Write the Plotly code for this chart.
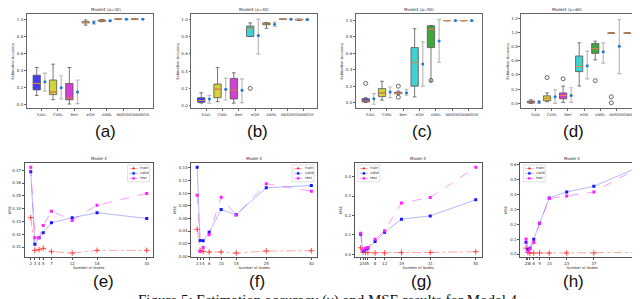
import plotly.graph_objects as go
import numpy as np

# ---------------- data: top row (box plots + mean/std error bars) ----------------
CATS = ['SAVL', 'CVML', 'Bert', 'eGM', 'ANML', 'NNSGM', 'GNNNSGM']
BOX_COLORS = ['#3f3ff0', '#d2d23c', '#d43fd4', '#3fd2d2', '#3fa53f', '#f3a57a', '#c9b56a']
TOP_TITLES = ['Model4 (p=30)', 'Model4 (p=40)', 'Model4 (p=50)', 'Model4 (p=60)']

A_Q1 = [0.175, 0.12, 0.06, 0.955, 0.975, 0.998, 0.998]
A_MED = [0.25, 0.15, 0.08, 0.962, 0.98, 1.0, 1.0]
A_Q3 = [0.346, 0.29, 0.25, 0.97, 0.99, 1.0, 1.0]
A_LO = [0.11, 0.06, 0.01, 0.93, 0.97, 0.995, 0.995]
A_HI = [0.436, 0.475, 0.436, 0.99, 0.995, 1.0, 1.0]
A_MEAN = [0.27, 0.2, 0.15, 0.96, 0.982, 0.999, 0.999]
A_ELO = [0.16, 0.07, 0.015, 0.94, 0.975, 0.997, 0.997]
A_EHI = [0.37, 0.34, 0.29, 0.98, 0.99, 1.0, 1.0]
A_OUT = [[], [], [], [], [], [], []]

B_Q1 = [0.04, 0.093, 0.078, 0.80, 0.935, 0.998, 0.99]
B_MED = [0.06, 0.19, 0.18, 0.895, 0.945, 1.0, 0.995]
B_Q3 = [0.093, 0.25, 0.315, 0.92, 0.957, 1.0, 1.0]
B_LO = [0.03, 0.047, 0.03, 0.80, 0.895, 0.995, 0.985]
B_HI = [0.15, 0.44, 0.38, 0.957, 0.96, 1.0, 1.0]
B_MEAN = [0.078, 0.19, 0.18, 0.81, 0.94, 0.999, 0.997]
B_ELO = [0.03, 0.066, 0.035, 0.6, 0.915, 0.997, 0.99]
B_EHI = [0.12, 0.32, 0.31, 1.0, 0.965, 1.0, 1.0]
B_OUT = [[], [], [], [0.2], [], [], []]

C_Q1 = [0.008, 0.073, 0.109, 0.2, 0.67, 0.998, 0.998]
C_MED = [0.02, 0.117, 0.113, 0.49, 0.895, 1.0, 1.0]
C_Q3 = [0.048, 0.17, 0.125, 0.67, 0.935, 1.0, 1.0]
C_LO = [0.0, 0.03, 0.097, 0.07, 0.26, 0.995, 0.995]
C_HI = [0.06, 0.26, 0.141, 0.9, 0.94, 1.0, 1.0]
C_MEAN = [0.048, 0.13, 0.121, 0.47, 0.75, 0.999, 0.999]
C_ELO = [-0.02, 0.06, 0.09, 0.2, 0.49, 0.997, 0.997]
C_EHI = [0.11, 0.19, 0.16, 0.74, 1.01, 1.0, 1.0]
C_OUT = [[0.234], [], [0.2, 0.065], [], [0.27], [], []]

D_Q1 = [0.005, 0.037, 0.065, 0.447, 0.705, 0.99, 0.99]
D_MED = [0.018, 0.07, 0.11, 0.52, 0.77, 0.99, 0.99]
D_Q3 = [0.032, 0.106, 0.147, 0.668, 0.843, 0.99, 0.99]
D_LO = [0.0, 0.023, 0.014, 0.244, 0.613, 0.99, 0.99]
D_HI = [0.05, 0.147, 0.244, 0.853, 0.876, 0.99, 0.99]
D_MEAN = [0.018, 0.092, 0.11, 0.53, 0.728, 0.806, 0.99]
D_ELO = [0.0, 0.0, 0.014, 0.345, 0.567, 0.42, 0.985]
D_EHI = [0.037, 0.19, 0.22, 0.737, 0.853, 1.18, 0.995]
D_OUT = [[], [0.364], [0.345], [], [0.32], [0.092, 0.009], []]

TOP_YRANGES = [[-0.04, 1.06], [-0.03, 1.06], [-0.07, 1.08], [-0.07, 1.26]]
TOP_YTICKS = [[0, 0.2, 0.4, 0.6, 0.8, 1.0]] * 3 + [[0, 0.2, 0.4, 0.6, 0.8, 1.0, 1.2]]

# ---------------- data: bottom row (MSE vs number of nodes) ----------------
SERIES = ['train', 'valid', 'test']

E_X = [2, 3, 4, 5, 7, 12, 18, 30]
E_TRAIN = [0.333, 0.3074, 0.3079, 0.309, 0.3064, 0.3053, 0.3074, 0.3074]
E_VALID = [0.3687, 0.3121, 0.3173, 0.3212, 0.329, 0.3329, 0.3368, 0.3323]
E_TEST = [0.3723, 0.3173, 0.3173, 0.3269, 0.338, 0.3308, 0.3427, 0.3518]

F_X = [2, 3, 4, 6, 10, 15, 25, 40]
F_TRAIN = [0.0428, 0.0089, 0.0078, 0.0068, 0.0068, 0.0052, 0.0084, 0.0089]
F_VALID = [0.141, 0.025, 0.0245, 0.038, 0.074, 0.066, 0.1086, 0.112]
F_TEST = [0.0966, 0.0078, 0.0141, 0.0345, 0.0935, 0.0653, 0.115, 0.103]

G_X = [2, 3, 4, 5, 8, 12, 19, 31, 50]
G_TRAIN = [0.034, 0.012, 0.010, 0.010, 0.007, 0.007, 0.009, 0.010, 0.014]
G_VALID = [0.103, 0.017, 0.026, 0.031, 0.066, 0.114, 0.181, 0.198, 0.281]
G_TEST = [0.109, 0.022, 0.031, 0.036, 0.078, 0.122, 0.264, 0.293, 0.448]

H_X = [2, 3, 4, 6, 9, 14, 23, 37, 60]
H_TRAIN = [0.04, 0.011, 0.007, 0.007, 0.007, 0.007, 0.007, 0.007, 0.011]
H_VALID = [0.08, 0.029, 0.04, 0.1, 0.207, 0.378, 0.418, 0.456, 0.584]
H_TEST = [0.102, 0.018, 0.036, 0.078, 0.207, 0.373, 0.391, 0.418, 0.58]

E_YTICKS = [0.31, 0.32, 0.33, 0.34, 0.35, 0.36, 0.37]
F_YTICKS = [0.0, 0.02, 0.04, 0.06, 0.08, 0.10, 0.12, 0.14]
G_YTICKS = [0.0, 0.1, 0.2, 0.3, 0.4]
H_YTICKS = [0.0, 0.1, 0.2, 0.3, 0.4, 0.5, 0.6]
SUB_LABELS = ['(a)', '(b)', '(c)', '(d)', '(e)', '(f)', '(g)', '(h)']
CAPTION = 'Figure 5: Estimation accuracy (γ) and MSE results for Model 4.'

# ---------------- layout geometry / styles ----------------
W, H = 640, 299
FONT = 'DejaVu Sans'
TICKF = dict(family=FONT, size=4, color='#333')
SMALLF = dict(family=FONT, size=3.6, color='#333')

LINE_COLORS = ['rgba(255,60,60,0.45)', 'rgba(70,70,255,0.4)', 'rgba(255,0,255,0.4)']
LINE_DASH = ['dashdot', 'solid', 'dash']
MARK_COLORS = ['rgba(255,40,40,0.85)', '#1515ff', '#ff20ff']


def px_x(p):
    return p / W


def px_y(p):
    return 1 - p / H


TOP_X = [(17, 143), (182, 308), (347, 473), (513, 637)]
TOP_Y = (5, 100)
BOT_X = [(15, 143), (182, 308), (346, 473), (512, 636)]
BOT_Y = (155, 250)

fig = go.Figure()
layout = dict(width=W, height=H, margin=dict(l=0, r=0, t=0, b=0),
              paper_bgcolor='white', plot_bgcolor='white', showlegend=False)
annotations = []
shapes = []

top_data = [
    (A_Q1, A_MED, A_Q3, A_LO, A_HI, A_MEAN, A_ELO, A_EHI, A_OUT),
    (B_Q1, B_MED, B_Q3, B_LO, B_HI, B_MEAN, B_ELO, B_EHI, B_OUT),
    (C_Q1, C_MED, C_Q3, C_LO, C_HI, C_MEAN, C_ELO, C_EHI, C_OUT),
    (D_Q1, D_MED, D_Q3, D_LO, D_HI, D_MEAN, D_ELO, D_EHI, D_OUT),
]
BOX_OFF, BOX_W, ERR_OFF = -0.3, 0.45, 0.2

for k, (q1, med, q3, lo, hi, mean, elo, ehi, outs) in enumerate(top_data):
    n = k + 1
    xa, ya = ('x' if n == 1 else f'x{n}'), ('y' if n == 1 else f'y{n}')
    for i, c in enumerate(CATS):
        pos = i + BOX_OFF
        fig.add_trace(go.Box(x=[pos], q1=[q1[i]], median=[med[i]], q3=[q3[i]],
                             lowerfence=[lo[i]], upperfence=[hi[i]], width=BOX_W,
                             fillcolor=BOX_COLORS[i], line=dict(color='#555', width=0.8),
                             whiskerwidth=0.5, boxpoints=False,
                             xaxis=xa, yaxis=ya, hoverinfo='skip'))
        fig.add_trace(go.Scatter(x=[pos - BOX_W / 2, pos + BOX_W / 2], y=[med[i], med[i]],
                                 mode='lines', line=dict(color='#f08a4b', width=1),
                                 xaxis=xa, yaxis=ya, hoverinfo='skip'))
        if outs[i]:
            fig.add_trace(go.Scatter(x=[pos] * len(outs[i]), y=outs[i], mode='markers',
                                     marker=dict(symbol='circle-open', size=4, color='#444',
                                                 line=dict(width=0.8)),
                                     xaxis=xa, yaxis=ya, hoverinfo='skip'))
    xs = [i + ERR_OFF for i in range(len(CATS))]
    fig.add_trace(go.Scatter(x=xs, y=mean, mode='markers',
                             error_y=dict(type='data', symmetric=False,
                                          array=[h - m for h, m in zip(ehi, mean)],
                                          arrayminus=[m - l for m, l in zip(mean, elo)],
                                          color='#bbbbbb', thickness=1.2, width=2),
                             marker=dict(color='#1f77d4', size=3),
                             xaxis=xa, yaxis=ya, hoverinfo='skip'))
    x0, x1 = TOP_X[k]
    layout['xaxis' if n == 1 else f'xaxis{n}'] = dict(
        domain=[px_x(x0), px_x(x1)], anchor=ya, range=[-0.9, 6.8],
        tickvals=list(range(len(CATS))), ticktext=CATS, tickfont=SMALLF, tickangle=0,
        showline=True, mirror=True, linecolor='#666', linewidth=0.8,
        ticks='outside', ticklen=2, tickcolor='#666', showgrid=False, zeroline=False)
    layout['yaxis' if n == 1 else f'yaxis{n}'] = dict(
        domain=[px_y(TOP_Y[1]), px_y(TOP_Y[0])], anchor=xa, range=TOP_YRANGES[k],
        tickvals=TOP_YTICKS[k], ticktext=[f'{v:.1f}' for v in TOP_YTICKS[k]], tickfont=TICKF,
        title=dict(text='Estimation Accuracy', font=SMALLF, standoff=2),
        showline=True, mirror=True, linecolor='#666', linewidth=0.8,
        ticks='outside', ticklen=2, tickcolor='#666', showgrid=False, zeroline=False)
    annotations.append(dict(text=TOP_TITLES[k], x=px_x((x0 + x1) / 2), y=px_y(TOP_Y[0] - 0.5),
                            xref='paper', yref='paper', yanchor='bottom', showarrow=False,
                            font=dict(family=FONT, size=4, color='#333'), borderpad=0))
    annotations.append(dict(text=SUB_LABELS[k], x=px_x((x0 + x1) / 2 + 3), y=px_y(123),
                            xref='paper', yref='paper', yanchor='middle', showarrow=False,
                            font=dict(family='Liberation Sans', size=17, color='#111')))

bot_data = [
    (E_X, [E_TRAIN, E_VALID, E_TEST], E_YTICKS, '{:.2f}', 'right'),
    (F_X, [F_TRAIN, F_VALID, F_TEST], F_YTICKS, '{:.2f}', 'right'),
    (G_X, [G_TRAIN, G_VALID, G_TEST], G_YTICKS, '{:.1f}', 'left'),
    (H_X, [H_TRAIN, H_VALID, H_TEST], H_YTICKS, '{:.1f}', 'left'),
]

for k, (xv, ys, yt, fmt, legpos) in enumerate(bot_data):
    n = k + 5
    xa, ya = f'x{n}', f'y{n}'
    for s, yvals in enumerate(ys):
        if s == 0:
            mk = dict(symbol='cross-thin', size=4, line=dict(width=1, color=MARK_COLORS[0]))
        else:
            mk = dict(symbol='square', size=3, color=MARK_COLORS[s])
        fig.add_trace(go.Scatter(x=xv, y=yvals, name=SERIES[s], mode='lines+markers',
                                 line=dict(color=LINE_COLORS[s], dash=LINE_DASH[s], width=1),
                                 marker=mk, xaxis=xa, yaxis=ya))
    allv = [v for yv in ys for v in yv]
    lo, hi = min(allv), max(allv)
    m = 0.05 * (hi - lo)
    xm = 0.05 * (max(xv) - min(xv))
    x0, x1 = BOT_X[k]
    layout[f'xaxis{n}'] = dict(
        domain=[px_x(x0), px_x(x1)], anchor=ya, range=[min(xv) - xm, max(xv) + xm],
        tickvals=xv, ticktext=[str(v) for v in xv], tickfont=TICKF, tickangle=0,
        title=dict(text='Number of Nodes', font=SMALLF, standoff=1),
        showline=True, mirror=True, linecolor='#555', linewidth=1.2,
        ticks='outside', ticklen=2, tickcolor='#555', showgrid=False, zeroline=False)
    layout[f'yaxis{n}'] = dict(
        domain=[px_y(BOT_Y[1]), px_y(BOT_Y[0])], anchor=xa, range=[lo - m, hi + m],
        tickvals=yt, ticktext=[fmt.format(v) for v in yt], tickfont=TICKF,
        title=dict(text='MSE', font=SMALLF, standoff=2),
        showline=True, mirror=True, linecolor='#555', linewidth=1.2,
        ticks='outside', ticklen=2, tickcolor='#555', showgrid=False, zeroline=False)

    # compact matplotlib-style legend
    LW, LH = 22, 17
    lx0 = x1 - 3 - LW if legpos == 'right' else x0 + 3
    ly0 = BOT_Y[0] + 2
    shapes.append(dict(type='rect', xref='paper', yref='paper',
                       x0=px_x(lx0), x1=px_x(lx0 + LW), y0=px_y(ly0 + LH), y1=px_y(ly0),
                       line=dict(color='#cccccc', width=0.6), fillcolor='rgba(255,255,255,0.85)'))
    for s in range(3):
        yy = ly0 + 3.5 + s * 5
        shapes.append(dict(type='line', xref='paper', yref='paper',
                           x0=px_x(lx0 + 2), x1=px_x(lx0 + 10), y0=px_y(yy), y1=px_y(yy),
                           line=dict(color=LINE_COLORS[s], width=1, dash=LINE_DASH[s])))
        cx = lx0 + 6
        if s == 0:
            shapes.append(dict(type='line', xref='paper', yref='paper',
                               x0=px_x(cx - 1.5), x1=px_x(cx + 1.5), y0=px_y(yy), y1=px_y(yy),
                               line=dict(color=MARK_COLORS[0], width=1)))
            shapes.append(dict(type='line', xref='paper', yref='paper',
                               x0=px_x(cx), x1=px_x(cx), y0=px_y(yy - 1.5), y1=px_y(yy + 1.5),
                               line=dict(color=MARK_COLORS[0], width=1)))
        else:
            shapes.append(dict(type='rect', xref='paper', yref='paper',
                               x0=px_x(cx - 1.2), x1=px_x(cx + 1.2),
                               y0=px_y(yy + 1.2), y1=px_y(yy - 1.2),
                               line=dict(width=0), fillcolor=MARK_COLORS[s]))
        annotations.append(dict(text=SERIES[s], x=px_x(lx0 + 11.5), y=px_y(yy),
                                xref='paper', yref='paper', xanchor='left', yanchor='middle',
                                showarrow=False, borderpad=0, font=SMALLF))

    annotations.append(dict(text='Model 4', x=px_x((x0 + x1) / 2), y=px_y(BOT_Y[0]),
                            xref='paper', yref='paper', yanchor='bottom', showarrow=False,
                            font=dict(family=FONT, size=4, color='#333')))
    annotations.append(dict(text=SUB_LABELS[n - 1], x=px_x((x0 + x1) / 2 + 3), y=px_y(274),
                            xref='paper', yref='paper', yanchor='middle', showarrow=False,
                            borderpad=0, font=dict(family='Liberation Sans', size=17, color='#111')))

annotations.append(dict(text=CAPTION, x=0.5, y=px_y(284), xref='paper', yref='paper',
                        yanchor='top', showarrow=False, borderpad=0,
                        font=dict(family='Liberation Serif', size=15, color='#111')))
layout['annotations'] = annotations
layout['shapes'] = shapes
fig.update_layout(**layout)
fig.write_html('out.html')
